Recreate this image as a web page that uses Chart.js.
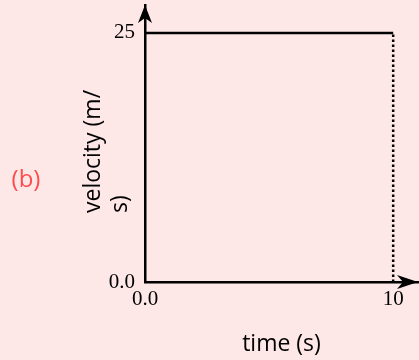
<!DOCTYPE html>
<html>
<head>
<meta charset="utf-8">
<script src="https://cdn.jsdelivr.net/npm/chart.js@4"></script>
<style>
  html, body { margin: 0; padding: 0; background: #fde7e7; }
  canvas { display: block; }
</style>
</head>
<body>
<canvas id="velocity-chart" width="419" height="360"></canvas>
<script>
// values
const velocityLine = [{ x: 0, y: 25 }, { x: 10, y: 25 }];
const dropLine = [{ x: 10, y: 0 }, { x: 10, y: 25 }];
const xTickValues = [0, 10];
const xTickLabels = ['0.0', '10'];
const yTickValues = [0, 25];
const yTickLabels = ['0.0', '25'];

const sans = "'Open Sans', 'Noto Sans', sans-serif";
const serif = "'Liberation Serif', 'DejaVu Serif', serif";

// arrowheads, the panel letter and the wrapped y label
const decorations = {
    id: 'decorations',
    afterDraw(chart) {
        const ctx = chart.ctx;
        const area = chart.chartArea;
        ctx.save();
        ctx.fillStyle = '#000';

        // up arrow on the y axis
        const tx = area.left, ty = area.top;
        ctx.beginPath();
        ctx.moveTo(tx, ty);
        ctx.lineTo(tx + 7, ty + 18);
        ctx.lineTo(tx, ty + 13);
        ctx.lineTo(tx - 7, ty + 18);
        ctx.closePath();
        ctx.fill();

        // right arrow on the x axis
        const rx = area.right, ry = area.bottom;
        ctx.beginPath();
        ctx.moveTo(rx, ry);
        ctx.lineTo(rx - 21, ry - 7);
        ctx.lineTo(rx - 15, ry);
        ctx.lineTo(rx - 21, ry + 7);
        ctx.closePath();
        ctx.fill();

        // (b)
        ctx.fillStyle = '#ff4c4c';
        ctx.font = '24px ' + sans;
        ctx.textAlign = 'center';
        ctx.textBaseline = 'middle';
        ctx.fillText('(b)', 26, 180);

        // y axis title, wrapped in two lines
        ctx.fillStyle = '#000';
        ctx.font = '23px ' + sans;
        ctx.textAlign = 'left';
        ctx.textBaseline = 'alphabetic';
        ctx.translate(100, 213);
        ctx.rotate(-Math.PI / 2);
        ctx.fillText('velocity (m/', 0, 0);
        ctx.fillText('s)', 0, 27);
        ctx.restore();
    }
};

new Chart(document.getElementById('velocity-chart').getContext('2d'), {
    type: 'line',
    data: {
        datasets: [{
            data: velocityLine,
            borderColor: '#000',
            borderWidth: 2.5,
            pointRadius: 0
        }, {
            data: dropLine,
            borderColor: '#000',
            borderWidth: 2.5,
            borderDash: [2.5, 2.5],
            pointRadius: 0
        }]
    },
    options: {
        responsive: false,
        animation: false,
        layout: { padding: { top: 5, right: 1, left: 0, bottom: 0 } },
        plugins: { legend: { display: false }, tooltip: { enabled: false } },
        scales: {
            x: {
                type: 'linear',
                min: 0,
                max: 11,
                grid: { display: false, drawTicks: false },
                border: { display: true, color: '#000', width: 2.5 },
                afterBuildTicks: s => { s.ticks = xTickValues.map(v => ({ value: v })); },
                afterFit: s => { s.height = 78; s.paddingLeft = 0; s.paddingRight = 0; },
                ticks: {
                    color: '#000',
                    font: { family: serif, size: 21 },
                    padding: 5,
                    maxRotation: 0,
                    callback: v => xTickLabels[xTickValues.indexOf(v)]
                },
                title: {
                    display: true,
                    text: 'time (s)',
                    color: '#000',
                    font: { family: sans, size: 23 },
                    padding: { top: 0, bottom: 2 }
                }
            },
            y: {
                type: 'linear',
                min: 0,
                max: 27.8,
                grid: { display: false, drawTicks: false },
                border: { display: true, color: '#000', width: 2.5 },
                afterBuildTicks: s => { s.ticks = yTickValues.map(v => ({ value: v })); },
                afterFit: s => { s.width = 145; s.paddingTop = 0; s.paddingBottom = 0; },
                ticks: {
                    color: '#000',
                    font: { family: serif, size: 21 },
                    padding: 10,
                    callback: v => yTickLabels[yTickValues.indexOf(v)]
                }
            }
        }
    },
    plugins: [decorations]
});
</script>
</body>
</html>
